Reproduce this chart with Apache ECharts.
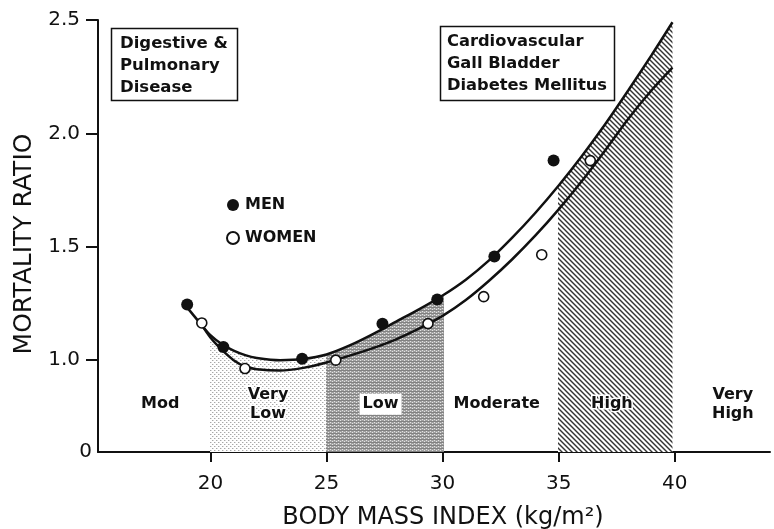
<!DOCTYPE html>
<html>
<head>
<meta charset="utf-8">
<script src="https://cdn.jsdelivr.net/npm/echarts@6/dist/echarts.min.js"></script>
<style>
html,body{margin:0;padding:0;background:#fff;}
#c{width:774px;height:529px;}
</style>
</head>
<body>
<div id="c"></div>
<script>
// ---- data ----
const menCurveX = [18.9, 19.5, 20, 20.5, 21, 21.5, 22, 23, 24, 25, 26, 27, 28, 29, 30, 31, 32, 33, 34, 35, 36, 37, 38, 39, 39.9];
const menCurveY = [1.245, 1.17, 1.11, 1.07, 1.042, 1.022, 1.01, 1.0, 1.005, 1.025, 1.065, 1.115, 1.17, 1.225, 1.285, 1.355, 1.44, 1.54, 1.65, 1.77, 1.90, 2.04, 2.19, 2.345, 2.49];
const womenCurveX = [19.6, 20, 20.5, 21, 21.5, 22, 23, 24, 25, 26, 27, 28, 29, 30, 31, 32, 33, 34, 35, 36, 37, 38, 39, 39.9];
const womenCurveY = [1.16, 1.10, 1.045, 1.0, 0.972, 0.96, 0.954, 0.966, 0.99, 1.02, 1.053, 1.092, 1.14, 1.195, 1.265, 1.35, 1.445, 1.55, 1.665, 1.79, 1.925, 2.065, 2.19, 2.29];
const menPointsX = [19.0, 20.56, 23.95, 27.41, 29.77, 32.23, 34.78];
const menPointsY = [1.245, 1.058, 1.006, 1.161, 1.268, 1.457, 1.88];
const womenPointsX = [19.63, 21.49, 25.40, 29.37, 31.77, 34.27, 36.36];
const womenPointsY = [1.164, 0.963, 1.0, 1.161, 1.28, 1.465, 1.88];
const bandNames = ['Very Low', 'Low', 'High'];
const bandStart = [20, 25, 35];
const bandEnd = [25, 30, 39.9];
const riskLabels = ['Mod', 'Very\nLow', 'Low', 'Moderate', 'High', 'Very\nHigh'];
const riskLabelX = [17.84, 22.48, 27.33, 32.33, 37.29, 42.5];
const riskLabelY = 0.806;
const xTicks = [20, 25, 30, 35, 40];
const yZero = 0.595;           // value where the broken axis shows "0"
const yTicks = [yZero, 1.0, 1.5, 2.0, 2.5];
const boxTexts = ['Digestive &\nPulmonary\nDisease', 'Cardiovascular\nGall Bladder\nDiabetes Mellitus'];

// ---- layout ----
const W = 774;
const G = { left: 98, right: 4, top: 20, bottom: 77, outerBoundsMode: 'none', containLabel: false };
const X_MIN = 15.16, X_MAX = 44.1, Y_MAX = 2.5;
const ppu = (W - G.left - G.right) / (X_MAX - X_MIN);
const xPx = v => G.left + (v - X_MIN) * ppu;

// ---- patterns ----
function makePattern(kind) {
  const c = document.createElement('canvas');
  const ctx = c.getContext('2d');
  if (kind === 'light') {
    c.width = 4; c.height = 4;
    ctx.fillStyle = '#fff'; ctx.fillRect(0, 0, 4, 4);
    ctx.fillStyle = '#a8a8a8';
    ctx.fillRect(0, 0, 1, 1); ctx.fillRect(2, 2, 1, 1);
    ctx.fillStyle = '#dcdcdc';
    ctx.fillRect(1, 0, 1, 1); ctx.fillRect(3, 2, 1, 1);
  } else if (kind === 'dark') {
    c.width = 4; c.height = 3;
    ctx.fillStyle = '#a2a2a2'; ctx.fillRect(0, 0, 4, 3);
    ctx.fillStyle = '#828282'; ctx.fillRect(0, 1, 4, 1);
    ctx.fillStyle = '#e4e4e4';
    ctx.fillRect(0, 0, 1, 1); ctx.fillRect(2, 2, 1, 1);
  } else {
    const s = 5;
    c.width = s; c.height = s;
    ctx.fillStyle = '#fff'; ctx.fillRect(0, 0, s, s);
    ctx.strokeStyle = '#333'; ctx.lineWidth = 1.4;
    for (const o of [-s, 0, s]) {
      ctx.beginPath(); ctx.moveTo(o - 1, -1); ctx.lineTo(o + s + 1, s + 1); ctx.stroke();
    }
  }
  return { image: c, repeat: 'repeat' };
}
const bandPatterns = [makePattern('light'), makePattern('dark'), makePattern('hatch')];

const zip = (xs, ys) => xs.map((x, i) => [x, ys[i]]);
const menCurve = zip(menCurveX, menCurveY);

const FONT = 'DejaVu Sans';
const INK = '#111';
const SMOOTH = 0.3;

// one extra grid per shaded band, same scale as the main grid, so the
// filled area under the men curve is clipped exactly at the band edges
const grids = [Object.assign({}, G)];
const xAxes = [], yAxes = [];
bandNames.forEach((n, i) => {
  grids.push({ left: xPx(bandStart[i]), right: W - xPx(bandEnd[i]), top: G.top, bottom: G.bottom, outerBoundsMode: 'none', containLabel: false });
  xAxes.push({ type: 'value', gridIndex: i + 1, min: bandStart[i], max: bandEnd[i], show: false });
  yAxes.push({ type: 'value', gridIndex: i + 1, min: yZero, max: Y_MAX, show: false });
});

const bandSeries = bandNames.map((n, i) => ({
  type: 'line', name: n, smooth: SMOOTH, symbol: 'none', silent: true, clip: true,
  xAxisIndex: i + 1, yAxisIndex: i + 1,
  lineStyle: { width: 0, opacity: 0 },
  areaStyle: { color: bandPatterns[i], opacity: 1, origin: 'start' },
  data: menCurve,
  z: 1
}));

const labelStyles = {
  'Low': { backgroundColor: '#fff', padding: [2, 3, 0, 3] },
  'Very\nLow': { textBorderColor: '#fff', textBorderWidth: 3 },
  'High': { textBorderColor: '#fff', textBorderWidth: 3 }
};

const option = {
  animation: false,
  backgroundColor: '#fff',
  grid: grids,
  xAxis: [{
    type: 'value', min: X_MIN, max: X_MAX,
    name: 'BODY MASS INDEX (kg/m²)', nameLocation: 'middle', nameGap: 54,
    nameTextStyle: { fontFamily: FONT, fontSize: 24, color: INK, padding: [0, 0, 0, 18] },
    axisLine: { show: true, onZero: false, lineStyle: { color: INK, width: 2 } },
    axisTick: { show: true, length: 10, customValues: xTicks, lineStyle: { color: INK, width: 2 } },
    axisLabel: { customValues: xTicks, fontFamily: FONT, fontSize: 20, color: INK, margin: 22 },
    splitLine: { show: false }
  }, ...xAxes],
  yAxis: [{
    type: 'value', min: yZero, max: Y_MAX,
    name: 'MORTALITY RATIO', nameLocation: 'middle', nameGap: 60, nameRotate: 90,
    nameTextStyle: { fontFamily: FONT, fontSize: 25, color: INK, padding: [0, 16, 0, 0] },
    axisLine: { show: true, onZero: false, lineStyle: { color: INK, width: 2 } },
    axisTick: { show: true, length: 12, customValues: yTicks.slice(1), lineStyle: { color: INK, width: 2 } },
    axisLabel: {
      customValues: yTicks, fontFamily: FONT, fontSize: 20, color: INK, margin: 18,
      formatter: v => (Math.abs(v - yZero) < 1e-6 ? '{z|0}' : v.toFixed(1)),
      rich: { z: { fontFamily: FONT, fontSize: 20, color: INK, padding: [0, -12, 0, 0] } }
    },
    splitLine: { show: false }
  }, ...yAxes],
  legend: {
    orient: 'vertical', left: 221, top: 192, itemGap: 17, itemWidth: 12, itemHeight: 12,
    data: [{ name: 'MEN', icon: 'circle' }, { name: 'WOMEN', icon: 'circle' }],
    textStyle: { fontFamily: FONT, fontWeight: 'bold', fontSize: 16, color: INK, padding: [0, 0, 0, 1] }
  },
  graphic: [
    { type: 'rect', shape: { x: 111.5, y: 28.5, width: 126, height: 72 }, style: { fill: 'none', stroke: INK, lineWidth: 1.5 }, z: 10 },
    { type: 'text', x: 120, y: 33, style: { text: boxTexts[0], font: 'bold 16.5px "DejaVu Sans"', lineHeight: 22, fill: INK, verticalAlign: 'top' }, z: 10 },
    { type: 'rect', shape: { x: 440.5, y: 26.5, width: 174, height: 74 }, style: { fill: 'none', stroke: INK, lineWidth: 1.5 }, z: 10 },
    { type: 'text', x: 447, y: 31, style: { text: boxTexts[1], font: 'bold 16.3px "DejaVu Sans"', lineHeight: 22, fill: INK, verticalAlign: 'top' }, z: 10 }
  ],
  series: [
    ...bandSeries,
    {
      type: 'line', name: 'men curve', smooth: SMOOTH, symbol: 'none', silent: true,
      lineStyle: { color: INK, width: 2.5 }, data: menCurve, z: 3
    },
    {
      type: 'line', name: 'women curve', smooth: SMOOTH, symbol: 'none', silent: true,
      lineStyle: { color: INK, width: 2.5 }, data: zip(womenCurveX, womenCurveY), z: 3
    },
    {
      type: 'scatter', name: 'MEN', symbol: 'circle', symbolSize: 12,
      itemStyle: { color: INK, borderColor: INK, borderWidth: 0, opacity: 1 },
      data: zip(menPointsX, menPointsY), z: 5
    },
    {
      type: 'scatter', name: 'WOMEN', symbol: 'circle', symbolSize: 10,
      itemStyle: { color: '#fff', borderColor: INK, borderWidth: 1.6, opacity: 1 },
      data: zip(womenPointsX, womenPointsY), z: 5
    },
    {
      type: 'scatter', name: 'risk labels', symbolSize: 0, silent: true, z: 6,
      itemStyle: { opacity: 1 },
      data: riskLabels.map((t, i) => ({
        value: [riskLabelX[i], riskLabelY], name: t,
        label: Object.assign({}, labelStyles[t] || {})
      })),
      label: {
        show: true, position: 'inside', formatter: p => p.name, opacity: 1,
        fontFamily: FONT, fontWeight: 'bold', fontSize: 16, color: INK, lineHeight: 19, align: 'center'
      }
    }
  ]
};

const chart = echarts.init(document.getElementById('c'), null, { renderer: 'canvas' });
chart.setOption(option);
</script>
</body>
</html>
